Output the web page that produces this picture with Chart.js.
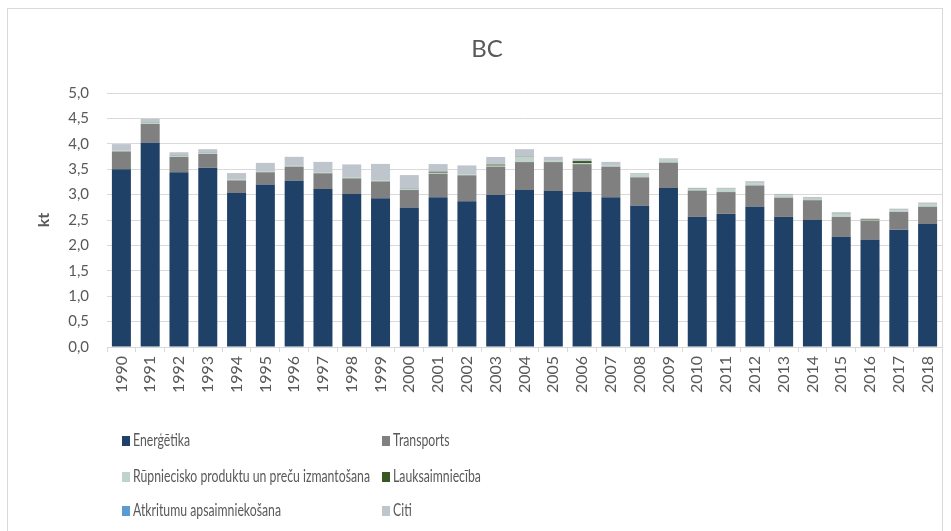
<!DOCTYPE html>
<html>
<head>
<meta charset="utf-8">
<script src="https://cdn.jsdelivr.net/npm/chart.js@4/dist/chart.umd.min.js"></script>
<style>
  html, body { margin:0; padding:0; background:#fff; }
  #wrap { position:relative; width:951px; height:531px; overflow:hidden; }
  #frame { position:absolute; left:7px; top:8px; width:936px; height:540px; border:1px solid #d9d9d9; box-sizing:border-box; }
  canvas { position:absolute; left:0; top:0; }
  #legend { position:absolute; left:0; top:0; width:951px; height:531px; pointer-events:none;
            font-family: Lato, sans-serif; font-size:17px; color:#595959; }
  .li { position:absolute; white-space:nowrap; line-height:18px; }
  .sw { display:inline-block; width:8px; height:10px; margin-right:3px; vertical-align:0px; }
  .tx { display:inline-block; transform-origin:0 50%; }
</style>
</head>
<body>
<div id="wrap">
  <div id="frame"></div>
  <canvas id="c" width="951" height="531"></canvas>
  <div id="legend"></div>
</div>
<script>
const years = ["1990","1991","1992","1993","1994","1995","1996","1997","1998","1999","2000","2001","2002","2003","2004","2005","2006","2007","2008","2009","2010","2011","2012","2013","2014","2015","2016","2017","2018"];
const energetika = [3.50,4.02,3.44,3.53,3.03,3.20,3.28,3.11,3.01,2.93,2.74,2.95,2.87,2.99,3.09,3.07,3.05,2.95,2.78,3.13,2.56,2.62,2.76,2.56,2.50,2.17,2.11,2.31,2.42];
const transports = [0.35,0.37,0.30,0.27,0.25,0.24,0.27,0.31,0.31,0.33,0.35,0.46,0.51,0.56,0.55,0.57,0.55,0.60,0.56,0.50,0.52,0.43,0.42,0.38,0.39,0.39,0.37,0.35,0.34];
const rupniecisko = [0.02,0.02,0.02,0.02,0.02,0.02,0.02,0.02,0.02,0.02,0.02,0.02,0.02,0.02,0.10,0.03,0.02,0.03,0.06,0.06,0.03,0.05,0.04,0.05,0.03,0.06,0.01,0.03,0.05];
const lauksaimnieciba = [0.003,0.003,0.003,0.003,0.003,0.003,0.003,0.003,0.003,0.003,0.003,0.02,0.003,0.02,0.003,0.003,0.04,0.003,0.003,0.003,0.003,0.003,0.003,0.003,0.003,0.003,0.02,0.003,0.003];
const atkritumi = [0.001,0.001,0.001,0.001,0.001,0.001,0.001,0.001,0.001,0.001,0.001,0.001,0.001,0.001,0.001,0.001,0.001,0.001,0.001,0.001,0.001,0.001,0.001,0.001,0.001,0.001,0.001,0.001,0.001];
const citi = [0.12,0.08,0.07,0.07,0.12,0.16,0.17,0.20,0.25,0.32,0.27,0.15,0.17,0.15,0.15,0.07,0.05,0.06,0.02,0.02,0.02,0.03,0.04,0.02,0.03,0.03,0.02,0.03,0.03];
const yTicks = [0,0.5,1,1.5,2,2.5,3,3.5,4,4.5,5];
const chartTitle = "BC";
const yTitle = "kt";

const series = [
  {label:"Enerģētika", data:energetika, color:"#1f4167"},
  {label:"Transports", data:transports, color:"#808080"},
  {label:"Rūpniecisko produktu un preču izmantošana", data:rupniecisko, color:"#bfd3cb"},
  {label:"Lauksaimniecība", data:lauksaimnieciba, color:"#385723"},
  {label:"Atkritumu apsaimniekošana", data:atkritumi, color:"#5b9bd5"},
  {label:"Citi", data:citi, color:"#bfc5cd"}
];

// legend (HTML, two columns); text horizontally condensed to mimic the narrow original font
const mctx = document.createElement('canvas').getContext('2d');
mctx.font = "17px Lato, sans-serif";
const sx = 237 / mctx.measureText(series[2].label).width;
const legendPos = [[122,431],[382,431],[122,467],[382,467],[122,501],[382,501]];
const lg = document.getElementById('legend');
series.forEach((s,i)=>{
  const d = document.createElement('div');
  d.className='li';
  d.style.left = legendPos[i][0]+'px';
  d.style.top = legendPos[i][1]+'px';
  d.innerHTML = '<span class="sw" style="background:'+s.color+'"></span><span class="tx" style="transform:scaleX('+sx.toFixed(3)+')">'+s.label+'</span>';
  lg.appendChild(d);
});

const font = "Lato, sans-serif";
const titlePlugin = {
  id:'titleAt',
  afterDraw(chart){
    const c = chart.ctx;
    c.save();
    c.font = "24px " + font;
    c.fillStyle = "#595959";
    c.textAlign = "center";
    c.textBaseline = "middle";
    c.fillText(chartTitle, 487, 49);
    c.restore();
  }
};

new Chart(document.getElementById('c'), {
  type:'bar',
  data:{
    labels:years,
    datasets:series.map(s=>({label:s.label, data:s.data, backgroundColor:s.color, borderWidth:0,
      categoryPercentage:1, barPercentage:0.66}))
  },
  options:{
    responsive:false, animation:false,
    layout:{padding:{left:0,right:9,top:93,bottom:0}},
    plugins:{
      legend:{display:false},
      tooltip:{enabled:false},
      title:{display:false}
    },
    scales:{
      x:{
        stacked:true,
        grid:{display:true, drawOnChartArea:false, drawTicks:true, tickLength:5, color:"#d9d9d9", offset:true},
        border:{color:"#d9d9d9"},
        ticks:{color:"#595959", font:{family:font, size:16}, minRotation:90, maxRotation:90, padding:4, autoSkip:false},
        afterFit:(a)=>{a.height=184;}
      },
      y:{
        stacked:true, min:0, max:5,
        afterBuildTicks:(a)=>{a.ticks=yTicks.map(v=>({value:v}));},
        grid:{color:"#d9d9d9", drawTicks:false},
        border:{display:false},
        ticks:{color:"#595959", font:{family:font, size:15}, padding:18,
          callback:(v)=>v.toFixed(1).replace('.',',')},
        title:{display:true, text:yTitle, color:"#595959", font:{family:font, size:16, weight:'bold'}, padding:{top:34,bottom:0}},
        afterFit:(a)=>{a.width=107;}
      }
    }
  },
  plugins:[titlePlugin]
});
</script>
</body>
</html>
